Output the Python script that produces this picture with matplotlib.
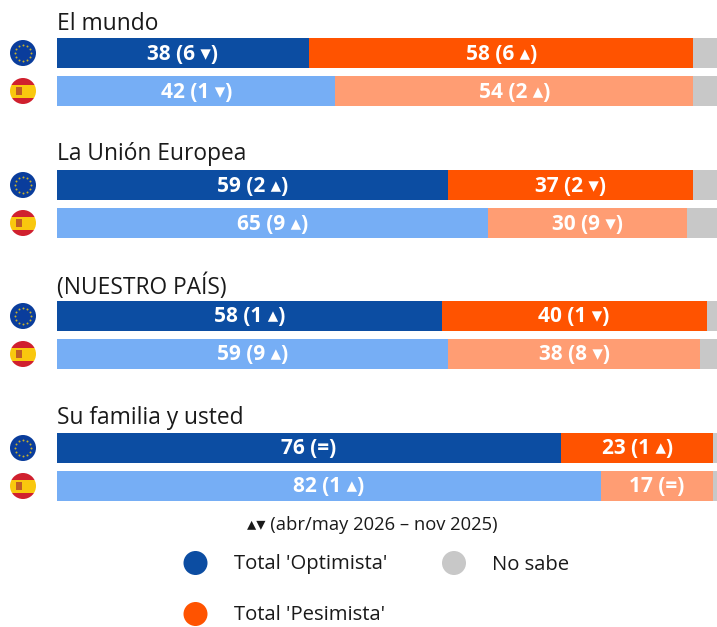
import numpy as np
from matplotlib import pyplot as plt
from matplotlib.patches import Circle, Rectangle

plt.rcParams['font.family'] = ['Open Sans', 'DejaVu Sans']

W, H = 717, 627

############ DATA
groups = ['El mundo', 'La Unión Europea', '(NUESTRO PAÍS)', 'Su familia y usted']
optimista_eu = [38, 59, 58, 76]
pesimista_eu = [58, 37, 40, 23]
nosabe_eu = [4, 4, 2, 1]
optimista_es = [42, 65, 59, 82]
pesimista_es = [54, 30, 38, 17]
nosabe_es = [4, 5, 3, 1]
labels_opt_eu = ['38 (6 ▾)', '59 (2 ▴)', '58 (1 ▴)', '76 (=)']
labels_pes_eu = ['58 (6 ▴)', '37 (2 ▾)', '40 (1 ▾)', '23 (1 ▴)']
labels_opt_es = ['42 (1 ▾)', '65 (9 ▴)', '59 (9 ▴)', '82 (1 ▴)']
labels_pes_es = ['54 (2 ▴)', '30 (9 ▾)', '38 (8 ▾)', '17 (=)']
note = '▴▾ (abr/may 2026 – nov 2025)'
legend_labels = ["Total 'Optimista'", "Total 'Pesimista'", 'No sabe']

DARK_BLUE = '#0C4DA2'
LIGHT_BLUE = '#76AEF5'
ORANGE = '#FF5300'
LIGHT_ORANGE = '#FF9D73'
GREY = '#C8C8C8'
TEXT = '#1A1A1A'

bar_tops = [(38, 76), (170, 208), (301, 339), (433, 471)]
title_y = [24, 154, 287, 418]
bar_h = 30

fig = plt.figure(figsize=(W/100, H/100), dpi=100)

# bars: x in percent, y in pixels from the top
ax = fig.add_axes([57/W, 0, (W-57)/W, 1])
ax.set_xlim(0, 99.55)
ax.set_ylim(H, 0)
ax.axis('off')

# everything else: plain pixel coordinates
ov = fig.add_axes([0, 0, 1, 1])
ov.set_xlim(0, W)
ov.set_ylim(H, 0)
ov.axis('off')
ov.patch.set_alpha(0)


def draw_row(y, opt, pes, ns, lab_opt, lab_pes, c_opt, c_pes):
    ax.barh(y, opt, height=bar_h, align='edge', color=c_opt)
    ax.barh(y, pes, left=opt, height=bar_h, align='edge', color=c_pes)
    ax.barh(y, ns, left=opt+pes, height=bar_h, align='edge', color=GREY)
    ax.text(opt/2, y+bar_h/2+1, lab_opt, color='white', fontsize=15, fontweight='bold', ha='center', va='center')
    ax.text(opt+pes/2, y+bar_h/2+1, lab_pes, color='white', fontsize=15, fontweight='bold', ha='center', va='center')


def eu_flag(cy):
    ov.add_patch(Circle((23, cy), 13, color='#0A3D9C', lw=0))
    ang = np.arange(12)*np.pi/6
    ov.scatter(23+8*np.cos(ang), cy+8*np.sin(ang), s=2, color='#C9B12A', marker='o', lw=0)


def es_flag(cy):
    clip = Circle((23, cy), 13, transform=ov.transData)
    for top, h, col in [(cy-13, 6.5, '#D0202E'), (cy-6.5, 13, '#F9C80E'), (cy+6.5, 6.5, '#D0202E')]:
        r = Rectangle((10, top), 26, h, color=col, lw=0)
        ov.add_patch(r)
        r.set_clip_path(clip)
    ov.add_patch(Rectangle((16, cy-4), 6, 8, color='#B84A2A', lw=0, alpha=0.85))


for i in range(len(groups)):
    y1, y2 = bar_tops[i]
    ov.text(57, title_y[i], groups[i], fontsize=16.4, color=TEXT, ha='left', va='center')
    draw_row(y1, optimista_eu[i], pesimista_eu[i], nosabe_eu[i], labels_opt_eu[i], labels_pes_eu[i], DARK_BLUE, ORANGE)
    draw_row(y2, optimista_es[i], pesimista_es[i], nosabe_es[i], labels_opt_es[i], labels_pes_es[i], LIGHT_BLUE, LIGHT_ORANGE)
    eu_flag(y1+bar_h/2)
    es_flag(y2+bar_h/2)

ov.text(372, 525.5, note, fontsize=13.2, color=TEXT, ha='center', va='center')

# legend
ov.add_patch(Circle((195.5, 563), 12, color=DARK_BLUE, lw=0))
ov.add_patch(Circle((195.5, 614), 12, color=ORANGE, lw=0))
ov.add_patch(Circle((454, 563), 12, color=GREY, lw=0))
ov.text(234, 564.5, legend_labels[0], fontsize=14.6, color=TEXT, ha='left', va='center')
ov.text(234, 615.5, legend_labels[1], fontsize=14.6, color=TEXT, ha='left', va='center')
ov.text(492, 564.5, legend_labels[2], fontsize=14.6, color=TEXT, ha='left', va='center')

plt.savefig('out.png', dpi=100)
